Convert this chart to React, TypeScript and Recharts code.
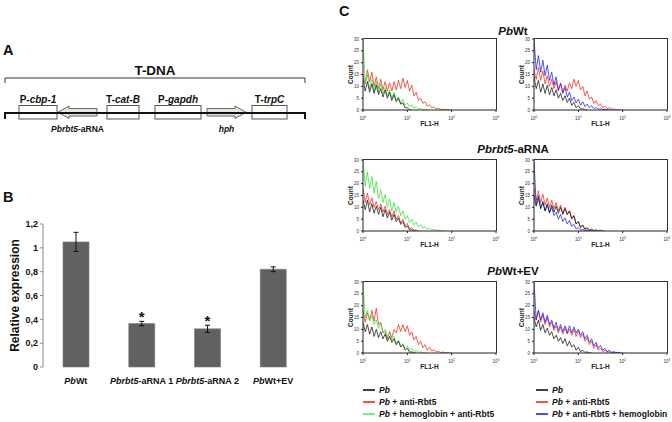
import {
  BarChart,
  Bar,
  ErrorBar,
  LabelList,
  LineChart,
  Line,
  ComposedChart,
  XAxis,
  YAxis,
  ReferenceArea,
  ReferenceLine,
} from 'recharts'

const FONT = '"Liberation Sans", Arial, sans-serif'

// ---- Panel A: T-DNA construct (positions in map units along the insert)
const TDNA_SPAN = [5, 305]
const ELEMENT_NAMES = ['P-cbp-1', 'Pbrbt5-aRNA', 'T-cat-B', 'P-gapdh', 'hph', 'T-trpC']
const ELEMENT_START = [19, 58, 107, 155, 207, 252]
const ELEMENT_END = [57, 97, 139, 201, 246, 287]
const ELEMENT_TYPE = ['box', 'rev', 'box', 'box', 'fwd', 'box']

// ---- Panel B: qRT-PCR
const GROUPS = ['PbWt', 'Pbrbt5-aRNA 1', 'Pbrbt5-aRNA 2', 'PbWt+EV']
const EXPRESSION = [1.05, 0.365, 0.32, 0.82]
const EXPRESSION_ERR = [0.08, 0.018, 0.03, 0.02]
const SIGNIFICANT = ['', '*', '*', '']
const EXPR_TICKS = [0, 0.2, 0.4, 0.6, 0.8, 1, 1.2]

// ---- Panel C: flow cytometry histograms (x = log10 FL1-H channel)
const BINS = [
  0, 0.05, 0.1, 0.15, 0.2, 0.25, 0.3, 0.35, 0.4, 0.45, 0.5, 0.55, 0.6, 0.65, 0.7, 0.75, 0.8, 0.85, 0.9, 0.95, 1,
  1.05, 1.1, 1.15, 1.2, 1.25, 1.3, 1.35, 1.4, 1.45, 1.5, 1.55, 1.6, 1.65, 1.7, 1.75, 1.8, 1.85, 1.9, 1.95, 2,
]
const DECADES = [0, 1, 2, 3]
const COUNT_TICKS = [0, 5, 10, 15, 20, 25, 30]
const ROW_TITLES = [['Pb', 'Wt'], ['Pbrbt5', '-aRNA'], ['Pb', 'Wt+EV']]

const WT_L_BLACK = [13, 8, 12, 7.5, 11, 7, 10.5, 6.5, 9, 5.5, 8.5, 5, 7.5, 4, 6.5, 3.5, 5, 2.5, 3, 1, 1, 0, 0]
const WT_L_GREEN = [30, 11, 15, 9, 13, 8, 12, 7.5, 11, 7, 9.5, 6, 8.5, 5, 7.5, 4, 5.5, 3, 4.5, 2, 3, 1.2, 2.2, 0.8, 1.4, 0.4, 0.7, 0.2, 0.3, 0, 0]
const WT_L_RED = [15, 11, 17, 12, 16, 10, 14, 9, 13, 8.5, 12, 8, 11.5, 8, 12, 8.5, 12.5, 9, 13.5, 9.5, 12.5, 8, 10.5, 6, 7.5, 4, 5, 2.8, 3.5, 1.6, 2.2, 0.9, 1.4, 0.4, 0.8, 0.2, 0.4, 0.1, 0.2, 0, 0]

const WT_R_BLACK = [14, 9, 12.5, 7.5, 11, 7, 10.5, 6.5, 9.5, 6, 8.5, 5, 7, 4, 6, 3.2, 5, 2, 3.2, 1, 1.8, 0.4, 0.6, 0, 0]
const WT_R_BLUE = [30, 17, 23, 16, 21, 14.5, 19, 12.5, 16, 10.5, 14, 8.5, 11, 7, 9.5, 5.5, 7.5, 4, 5.5, 3, 4.5, 2, 3.5, 1.5, 2.5, 1, 1.8, 0.6, 1.1, 0.3, 0.6, 0.2, 0.3, 0.1, 0, 0]
const WT_R_RED = [17, 13, 18, 12.5, 16.5, 11, 14.5, 10, 13, 9, 12, 8, 11.5, 7.5, 10.5, 8, 11.5, 9, 13, 10, 12.5, 8.5, 10, 6, 8, 4.5, 5.5, 2.8, 4, 1.8, 2.6, 1, 1.6, 0.6, 1, 0.3, 0.5, 0.1, 0.2, 0, 0]

const AS_L_BLACK = [13, 9, 13, 8, 11.5, 7.5, 10.5, 7, 10, 6, 9, 5.5, 8, 4.5, 7, 4, 5.5, 2.8, 4, 1.5, 2.2, 0.5, 0.6, 0, 0]
const AS_L_GREEN = [30, 19, 25, 18, 23, 16, 21, 13.5, 17.5, 12, 15.5, 10, 13.5, 8.5, 12, 8, 10.5, 6.5, 8.5, 5, 6.5, 3.5, 5, 2.5, 3.8, 1.8, 2.6, 1.2, 1.8, 0.7, 1.2, 0.4, 0.7, 0.2, 0.4, 0.1, 0, 0]
const AS_L_RED = [18, 12, 16, 11, 14, 10, 12.5, 9, 11.5, 8, 10.5, 7, 9, 6, 8.5, 5, 6.5, 3.5, 5, 2.2, 3.2, 1, 1.5, 0.3, 0.4, 0, 0]

const AS_R_BLACK = [15, 10.5, 14, 9.5, 12, 8.5, 11.5, 8, 11, 8, 10.5, 7.5, 10, 7, 9.5, 7, 8.5, 5, 6.5, 3, 4, 1.6, 2.6, 0.8, 1.4, 0.4, 0.8, 0.2, 0.5, 0.1, 0.4, 0, 0]
const AS_R_BLUE = [30, 11, 15, 9.5, 12.5, 8.5, 11, 7.5, 10, 6.5, 8, 5, 7, 4, 5.5, 3, 4.5, 2, 2.8, 0.8, 1.5, 0.3, 0.7, 0.1, 0.4, 0, 0]
const AS_R_RED = [18, 13, 17, 12, 15.5, 11, 14, 10, 13, 9.5, 12, 8.5, 11, 7.5, 10, 7, 8.5, 5.5, 6.5, 3, 4, 1.4, 2.2, 0.6, 1, 0.2, 0.3, 0, 0]

const EV_L_BLACK = [13, 9, 12, 8, 11, 7, 10, 6.5, 9, 6, 8, 5, 7, 4.5, 6, 3.5, 5, 2.5, 3.5, 1.2, 2, 0.3, 0.5, 0, 0]
const EV_L_GREEN = [30, 15, 18, 13.5, 16, 12, 14, 10.5, 12.5, 9, 10, 7, 8.5, 5.5, 7, 4, 5.5, 3, 4, 2, 3, 1.2, 2, 0.6, 1.2, 0.3, 0.5, 0.1, 0, 0]
const EV_L_RED = [18, 13, 17, 14, 18, 13.5, 19, 12, 13, 8.5, 9, 6, 9, 6.5, 10, 8.5, 12, 9, 12, 9, 11.5, 7.5, 9, 5.5, 7, 3.5, 5, 2.2, 3.5, 1.2, 2.4, 0.8, 1.4, 0.4, 0.8, 0.2, 0.4, 0.1, 0.2, 0, 0]

const EV_R_BLACK = [15, 11, 14, 9.5, 12, 8.5, 10.5, 7.5, 9, 6, 7.5, 5, 6.5, 4, 6, 3, 5, 2.5, 3.5, 1.2, 2.4, 0.5, 1.2, 0.2, 0.5, 0, 0]
const EV_R_BLUE = [30, 14, 18, 14, 17, 13, 16, 12, 14, 10.5, 13, 9.5, 12, 9, 11.5, 8.5, 11.5, 8.5, 11, 8.5, 10, 7.5, 9, 6, 7.5, 4.5, 6, 3, 4.5, 2, 3.2, 1.2, 2, 0.6, 1.2, 0.3, 0.6, 0.2, 0.3, 0.1, 0]
const EV_R_RED = [18, 14, 18, 13, 16, 12, 15, 11, 13, 9.5, 11.5, 8.5, 11, 8, 10.5, 8, 10, 7.5, 10, 7, 9.5, 6.5, 8, 5, 6.5, 3.5, 5, 2, 3.5, 1.2, 2, 0.6, 1.2, 0.3, 0.6, 0.1, 0.2, 0, 0]

const BLACK = '#111111'
const RED = '#ee2a1b'
const GREEN = '#33e233'
const BLUE = '#1c1cf0'

const HISTOGRAMS = [
  [[WT_L_RED, RED], [WT_L_GREEN, GREEN], [WT_L_BLACK, BLACK]],
  [[WT_R_RED, RED], [WT_R_BLUE, BLUE], [WT_R_BLACK, BLACK]],
  [[AS_L_RED, RED], [AS_L_GREEN, GREEN], [AS_L_BLACK, BLACK]],
  [[AS_R_RED, RED], [AS_R_BLUE, BLUE], [AS_R_BLACK, BLACK]],
  [[EV_L_RED, RED], [EV_L_GREEN, GREEN], [EV_L_BLACK, BLACK]],
  [[EV_R_RED, RED], [EV_R_BLUE, BLUE], [EV_R_BLACK, BLACK]],
] as [number[], string][][]

const LEGEND_LEFT = [['', BLACK], [' + anti-Rbt5', RED], [' + hemoglobin + anti-Rbt5', '#5cee44']]
const LEGEND_RIGHT = [['', BLACK], [' + anti-Rbt5', RED], [' + anti-Rbt5 + hemoglobin', BLUE]]

const ROW_TOPS = [34, 155, 277]
const COL_LEFTS = [338, 509]

// histogram box geometry
const H_W = 170
const H_H = 100
const H_MARGIN = { top: 5, right: 12, bottom: 7, left: 0 }
const H_YAXIS_W = 25
const H_XAXIS_H = 17

function ElementShape(props: any) {
  const { x, y, width, height, index } = props
  const kind = ELEMENT_TYPE[index]
  if (kind === 'box') {
    return <rect x={x} y={y} width={width} height={height} fill="#fff" stroke="#555" strokeWidth={1} />
  }
  const head = 11
  const t = y + height * 0.2
  const b = y + height * 0.8
  const mid = y + height / 2
  const pts =
    kind === 'fwd'
      ? [[x, t], [x + width - head, t], [x + width - head, y], [x + width, mid], [x + width - head, y + height], [x + width - head, b], [x, b]]
      : [[x + width, t], [x + head, t], [x + head, y], [x, mid], [x + head, y + height], [x + head, b], [x + width, b]]
  return <polygon points={pts.map((p) => p.join(',')).join(' ')} fill="#e6e6dc" stroke="#666" strokeWidth={1} />
}

function ElementLabel(props: any) {
  const { viewBox, index } = props
  if (!viewBox) return null
  const name = ELEMENT_NAMES[index]
  const gene = ELEMENT_TYPE[index] !== 'box'
  let parts: [string, boolean][]
  if (!gene) parts = [[name.slice(0, 2), false], [name.slice(2), true]]
  else if (name.includes('-')) parts = [[name.slice(0, name.indexOf('-')), true], [name.slice(name.indexOf('-')), false]]
  else parts = [[name, true]]
  const y = gene ? viewBox.y + viewBox.height + 13 : viewBox.y - 3
  return (
    <text x={viewBox.x + viewBox.width / 2} y={y} textAnchor="middle" fontSize={gene ? 8.5 : 10} fontWeight={700} fontFamily={FONT} fill="#111">
      {parts.map(([s, it], k) => (
        <tspan key={k} fontStyle={it ? 'italic' : 'normal'}>{s}</tspan>
      ))}
    </text>
  )
}

function ConstructMap() {
  const [a, b] = TDNA_SPAN
  return (
    <ComposedChart width={310} height={80} margin={{ top: 0, right: 0, bottom: 0, left: 0 }}>
      <XAxis type="number" dataKey="x" domain={[0, 310]} hide allowDataOverflow />
      <YAxis type="number" domain={[0, 80]} reversed hide allowDataOverflow />
      <ReferenceLine
        segment={[{ x: a, y: 18 }, { x: b, y: 18 }]}
        stroke="#333"
        ifOverflow="visible"
        label={{ value: 'T-DNA', position: 'top', offset: 3, fontSize: 13.5, fontWeight: 700, fill: '#111', fontFamily: FONT }}
      />
      <ReferenceLine segment={[{ x: a, y: 18 }, { x: a, y: 23 }]} stroke="#333" ifOverflow="visible" />
      <ReferenceLine segment={[{ x: b, y: 18 }, { x: b, y: 23 }]} stroke="#333" ifOverflow="visible" />
      <ReferenceLine segment={[{ x: a, y: 53 }, { x: b, y: 53 }]} stroke="#111" strokeWidth={2} ifOverflow="visible" />
      <ReferenceLine segment={[{ x: a, y: 52 }, { x: a, y: 59 }]} stroke="#111" strokeWidth={2} ifOverflow="visible" />
      <ReferenceLine segment={[{ x: b, y: 52 }, { x: b, y: 59 }]} stroke="#111" strokeWidth={2} ifOverflow="visible" />
      {ELEMENT_NAMES.map((n, i) => (
        <ReferenceArea
          key={n}
          x1={ELEMENT_START[i]}
          x2={ELEMENT_END[i]}
          y1={ELEMENT_TYPE[i] === 'box' ? 45.5 : 46}
          y2={ELEMENT_TYPE[i] === 'box' ? 59 : 58.5}
          ifOverflow="visible"
          shape={(p: any) => <ElementShape {...p} index={i} />}
          label={(p: any) => <ElementLabel {...p} index={i} />}
        />
      ))}
    </ComposedChart>
  )
}

function GroupTick({ x, y, payload }: any) {
  const m = /^(Pbrbt5|Pb)(.*)$/.exec(payload.value) || ['', '', payload.value]
  return (
    <text x={x} y={y + 17} textAnchor="middle" fontSize={9} fontWeight={700} fontFamily={FONT} fill="#111">
      <tspan fontStyle="italic">{m[1]}</tspan>
      <tspan>{m[2]}</tspan>
    </text>
  )
}

function Star(props: any) {
  const vb = props.viewBox || props
  const i = props.index
  if (!props.value || !vb) return null
  const pxPerUnit = vb.height / EXPRESSION[i]
  const top = vb.y - EXPRESSION_ERR[i] * pxPerUnit
  return (
    <text x={vb.x + vb.width / 2} y={top + 1} textAnchor="middle" fontSize={15} fontWeight={700} fontFamily={FONT} fill="#111">
      {props.value}
    </text>
  )
}

function ExpressionChart() {
  const data = GROUPS.map((g, i) => ({ group: g, value: EXPRESSION[i], err: EXPRESSION_ERR[i], sig: SIGNIFICANT[i] }))
  return (
    <BarChart width={320} height={190} data={data} margin={{ top: 14, right: 14, bottom: 0, left: 0 }}>
      <XAxis xAxisId="frame" type="number" domain={[0, 4]} ticks={[0, 1, 2, 3, 4]} height={0} tick={false} tickSize={3} stroke="#8c8c8c" allowDataOverflow />
      <XAxis xAxisId="cat" dataKey="group" height={33} axisLine={false} tickLine={false} tickSize={0} tickMargin={0} interval={0} tick={<GroupTick />} />
      <YAxis
        type="number"
        domain={[0, 1.2]}
        ticks={EXPR_TICKS}
        width={43}
        tickSize={3}
        stroke="#8c8c8c"
        tick={{ fontSize: 9, fontWeight: 700, fill: '#111', fontFamily: FONT }}
        tickFormatter={(v: number) => String(v).replace('.', ',')}
        label={{ value: 'Relative expression', angle: -90, position: 'insideLeft', offset: 14.5, style: { textAnchor: 'middle', fontSize: 12, fontWeight: 700, fill: '#111', fontFamily: FONT } }}
      />
      <Bar xAxisId="cat" dataKey="value" barSize={26} fill="#616161" stroke="#7c7c7c" strokeWidth={0.6} isAnimationActive={false}>
        <ErrorBar dataKey="err" direction="y" width={2.5} stroke="#111" strokeWidth={1} />
        <LabelList dataKey="sig" content={<Star />} />
      </Bar>
    </BarChart>
  )
}

function DecadeTick({ x, y, payload }: any) {
  return (
    <text x={x} y={y + 5.5} textAnchor="middle" fontSize={4.5} fill="#333" fontFamily={FONT}>
      10
      <tspan dy={-2} fontSize={3.2}>{payload.value}</tspan>
    </text>
  )
}

function Histogram({ series }: { series: [number[], string][] }) {
  const xMax = DECADES[DECADES.length - 1]
  const yMax = COUNT_TICKS[COUNT_TICKS.length - 1]
  const data = BINS.map((x, i) => {
    const row: Record<string, number | undefined> = { x }
    series.forEach(([counts], k) => {
      row[`s${k}`] = counts[i]
    })
    return row
  })
  const plotW = H_W - H_MARGIN.left - H_MARGIN.right - H_YAXIS_W
  const plotH = H_H - H_MARGIN.top - H_MARGIN.bottom - H_XAXIS_H
  return (
    <div style={{ position: 'relative', width: H_W, height: H_H }}>
      <LineChart width={H_W} height={H_H} data={data} margin={H_MARGIN}>
        <XAxis
          type="number"
          dataKey="x"
          domain={[0, xMax]}
          ticks={DECADES}
          height={H_XAXIS_H}
          tickSize={2}
          stroke="#222"
          allowDataOverflow
          tick={<DecadeTick />}
          label={{ value: 'FL1-H', position: 'insideBottom', offset: 1.5, style: { fontSize: 6.5, fontWeight: 700, fill: '#222', fontFamily: FONT } }}
        />
        <YAxis
          type="number"
          domain={[0, yMax]}
          ticks={COUNT_TICKS}
          width={H_YAXIS_W}
          tickSize={2}
          stroke="#222"
          allowDataOverflow
          tick={{ fontSize: 4.5, fill: '#333', fontFamily: FONT }}
          label={{ value: 'Count', angle: -90, position: 'insideLeft', offset: 13, style: { textAnchor: 'middle', fontSize: 6.5, fontWeight: 700, fill: '#222', fontFamily: FONT } }}
        />
        {series.map(([, color], k) => (
          <Line key={k} dataKey={`s${k}`} stroke={color} strokeWidth={0.75} dot={false} isAnimationActive={false} />
        ))}
      </LineChart>
      <div
        style={{
          position: 'absolute',
          left: H_MARGIN.left + H_YAXIS_W,
          top: H_MARGIN.top - 1,
          width: plotW + 1,
          height: plotH + 1,
          boxSizing: 'border-box',
          borderTop: '1px solid #333',
          borderRight: '1px solid #333',
          pointerEvents: 'none',
        }}
      />
    </div>
  )
}

export default function App() {
  const abs = (left: number, top: number) => ({ position: 'absolute' as const, left, top })
  return (
    <div style={{ position: 'absolute', left: 0, top: 0, width: 672, height: 422, background: '#fff', fontFamily: FONT, overflow: 'hidden' }}>
      <svg width={672} height={422} style={abs(0, 0)} fontFamily={FONT}>
        <text x={3} y={55} fontSize={14.5} fontWeight={700} fill="#111">A</text>
        <text x={3} y={202} fontSize={14.5} fontWeight={700} fill="#111">B</text>
        <text x={339} y={15.5} fontSize={14.5} fontWeight={700} fill="#111">C</text>
        {ROW_TITLES.map(([it, rest], r) => (
          <text key={r} x={513} y={[35, 153, 275][r]} textAnchor="middle" fontSize={11.5} fontWeight={700} fill="#111">
            <tspan fontStyle="italic">{it}</tspan>
            <tspan>{rest}</tspan>
          </text>
        ))}
        {[LEGEND_LEFT, LEGEND_RIGHT].map((items, c) =>
          items.map(([label, color], k) => {
            const x0 = c === 0 ? 363 : 536
            const y0 = 390 + k * 12
            return (
              <g key={`${c}-${k}`}>
                <line x1={x0} x2={x0 + 12} y1={y0} y2={y0} stroke={color} strokeWidth={1.6} />
                <text x={x0 + 16} y={y0 + 3} fontSize={8.5} fontWeight={700} fill="#111">
                  <tspan fontStyle="italic">Pb</tspan>
                  <tspan>{label}</tspan>
                </text>
              </g>
            )
          })
        )}
      </svg>
      <div style={abs(0, 60)}>
        <ConstructMap />
      </div>
      <div style={abs(0, 210)}>
        <ExpressionChart />
      </div>
      {HISTOGRAMS.map((series, p) => (
        <div key={p} style={abs(COL_LEFTS[p % 2], ROW_TOPS[Math.floor(p / 2)])}>
          <Histogram series={series} />
        </div>
      ))}
    </div>
  )
}
